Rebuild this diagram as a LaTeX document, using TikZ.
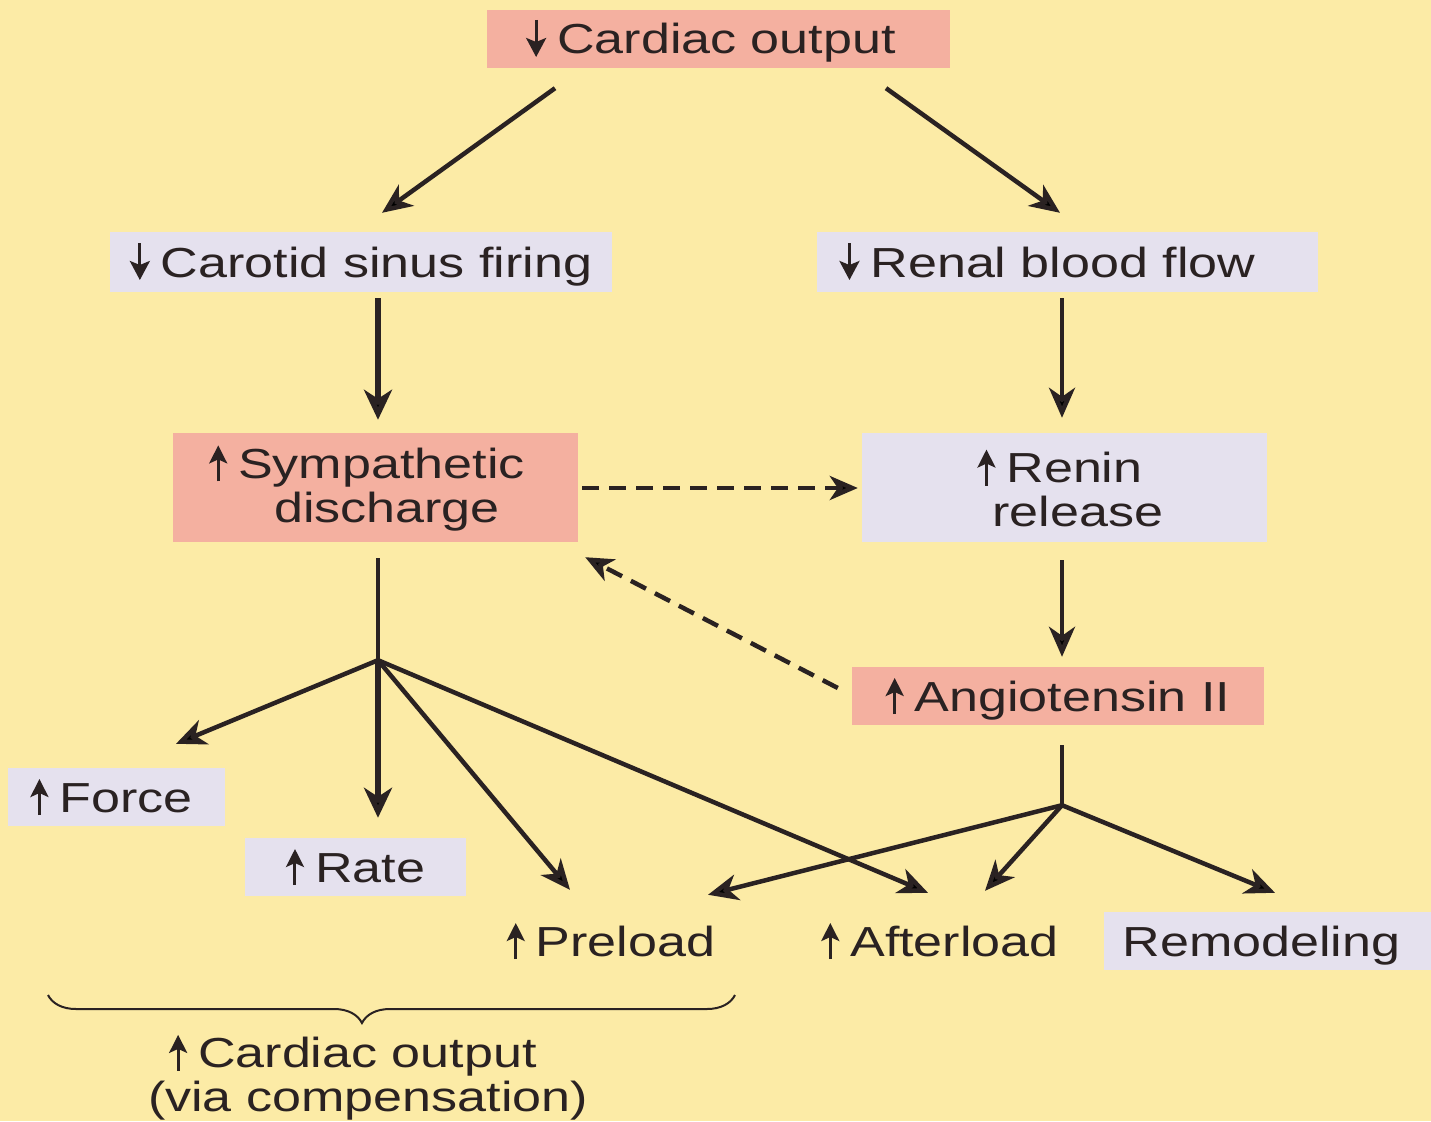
\documentclass[tikz,border=0pt]{standalone}
\usepackage{fontspec}
\setmainfont{Liberation Sans}[FakeStretch=1.24]
\usetikzlibrary{arrows.meta,calc,decorations.pathreplacing}
\definecolor{bg}{HTML}{FCEBA6}
\definecolor{pinkc}{HTML}{F4B0A0}
\definecolor{lavc}{HTML}{E5E1EE}
\definecolor{txt}{HTML}{2A2222}
\newcommand\upa{\tikz[baseline=0pt]\draw[txt, line width=3pt, -{Stealth[length=18pt,width=18pt,inset=4pt]}] (0pt,-3pt) -- (0pt,33pt);\hspace{11pt}}
\newcommand\dna{\tikz[baseline=0pt]\draw[txt, line width=3pt, -{Stealth[length=19pt,width=20pt,inset=4pt]}] (0pt,34pt) -- (0pt,-3pt);\hspace{11pt}}
\begin{document}
\begin{tikzpicture}[x=1pt,y=-1pt,
  font=\fontsize{42}{44}\selectfont,
  every node/.style={text=txt, inner sep=0pt},
  pinkbox/.style={fill=pinkc, align=center},
  lavbox/.style={fill=lavc, align=center},
  one/.style={text height=30pt, text depth=0pt},
  plain/.style={minimum height=58pt, text height=30pt, text depth=0pt},
  arr/.style={draw=txt, line width=4.5pt, -{Stealth[length=30pt,width=26pt,inset=9pt]}},
  tarr/.style={draw=txt, line width=6.5pt, -{Stealth[length=30pt,width=28pt,inset=9pt]}},
  dsh/.style={draw=txt, line width=4.5pt, dash pattern=on 17pt off 10pt, -{Stealth[length=28pt,width=24pt,inset=8pt]}},
  ln/.style={draw=txt, line width=4.5pt}]
\fill[bg] (0,0) rectangle (1431,1121);
\useasboundingbox (0,0) rectangle (1431,1121);

\node[pinkbox, one, minimum width=463pt, minimum height=58pt] (top) at (718.5,39) {\dna Cardiac output\hspace*{15pt}};
\node[lavbox, one, minimum width=502pt, minimum height=60pt] (car) at (361,262) {\dna Carotid sinus firing};
\node[lavbox, one, minimum width=501pt, minimum height=60pt] (ren) at (1067.5,262) {\dna Renal blood flow\hspace*{40pt}};
\node[pinkbox, minimum width=405pt, minimum height=109pt] (sym) at (375.5,487.5) {\upa Sympathetic\hspace*{17pt}\\\hspace*{23pt}discharge};
\node[lavbox, minimum width=405pt, minimum height=109pt] (rel) at (1064.5,487.5) {\upa Renin\hspace*{9pt}\\\hspace*{27pt}release};
\node[pinkbox, one, minimum width=412pt, minimum height=58pt] (ang) at (1058,696) {\upa Angiotensin II};
\node[lavbox, one, minimum width=217pt, minimum height=58pt] (frc) at (116.5,797) {\upa Force\hspace*{10pt}};
\node[lavbox, one, minimum width=221pt, minimum height=58pt] (rat) at (355.5,867) {\upa Rate};
\node[plain] (pre) at (611,941) {\upa Preload};
\node[plain] (aft) at (940,941) {\upa Afterload};
\node[lavbox, one, minimum width=327pt, minimum height=58pt] (rem) at (1267.5,941) {Remodeling\hspace*{12pt}};
\node[align=center] (co) at (368,1077) {\upa Cardiac output\hspace*{30pt}\\(via compensation)};

\coordinate (b1) at ($(sym.south)+(2.5,118)$);
\coordinate (b2) at ($(ang.south)+(4,80)$);

\draw[arr] ($(top.south)+(-163.5,20)$) -- ($(car.north)+(21,-19)$);
\draw[arr] ($(top.south)+(167.5,20)$) -- ($(ren.north)+(-7.5,-19)$);
\draw[tarr] ($(car.south)+(17,6)$) -- ($(sym.north)+(2.5,-13)$);
\draw[arr] ($(ren.south)+(-5.5,6)$) -- ($(rel.north)+(-2.5,-15)$);
\draw[dsh] ($(sym.east)+(4,0.5)$) -- ($(rel.west)+(-4,0.5)$);
\draw[arr] ($(rel.south)+(-2.5,18)$) -- ($(ang.north)+(4,-10)$);
\draw[dsh] ($(ang.west)+(-14,-8)$) -- ($(sym.south east)+(7,15)$);

\draw[ln] ($(sym.south)+(2.5,16)$) -- (b1);
\draw[arr] (b1) -- ($(frc.north)+(59.5,-24)$);
\draw[tarr] (b1) -- ($(rat.north)+(22.5,-20)$);
\draw[arr] (b1) -- ($(pre.north)+(-41,-22)$);
\draw[arr] (b1) -- ($(aft.north)+(-12,-19)$);

\draw[ln] ($(ang.south)+(4,20)$) -- (b2);
\draw[arr] (b2) -- ($(pre.north)+(97,-17)$);
\draw[arr] (b2) -- ($(aft.north)+(45,-21)$);
\draw[arr] (b2) -- ($(rem.north)+(7.5,-19)$);

\draw[draw=txt, line width=2pt, decorate, decoration={brace, amplitude=28pt, aspect=0.543}] (735,995) -- (48,995);
\end{tikzpicture}
\end{document}
